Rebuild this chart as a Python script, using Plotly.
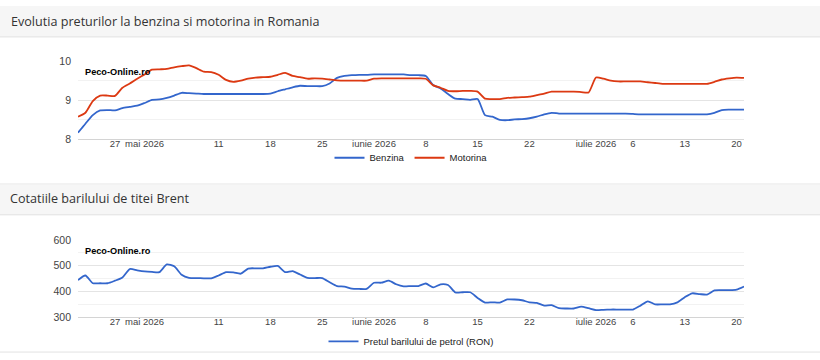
import pandas as pd
import plotly.graph_objects as go

# ---------------- data ----------------
dates = pd.date_range("2026-04-22", "2026-07-21", freq="D")

benzina = [
    8.17, 8.40, 8.62, 8.74, 8.75, 8.74, 8.80, 8.83, 8.86, 8.93,
    9.01, 9.02, 9.06, 9.12, 9.19, 9.18, 9.17, 9.16, 9.16, 9.16,
    9.16, 9.16, 9.16, 9.16, 9.16, 9.16, 9.17, 9.23, 9.28, 9.33,
    9.37, 9.36, 9.36, 9.36, 9.43, 9.57, 9.62, 9.64, 9.65, 9.65,
    9.66, 9.66, 9.66, 9.66, 9.66, 9.64, 9.64, 9.62, 9.39, 9.30,
    9.16, 9.04, 9.03, 9.01, 9.03, 8.62, 8.58, 8.50, 8.49, 8.51,
    8.52, 8.54, 8.58, 8.64, 8.68, 8.66, 8.66, 8.66, 8.66, 8.66,
    8.66, 8.66, 8.66, 8.66, 8.66, 8.65, 8.64, 8.64, 8.64, 8.64,
    8.64, 8.64, 8.64, 8.64, 8.64, 8.64, 8.68, 8.75, 8.76, 8.76,
    8.76,
]

motorina = [
    8.58, 8.68, 8.98, 9.12, 9.12, 9.11, 9.32, 9.43, 9.55, 9.66,
    9.78, 9.79, 9.80, 9.84, 9.87, 9.89, 9.82, 9.73, 9.72, 9.65,
    9.52, 9.47, 9.50, 9.55, 9.58, 9.59, 9.60, 9.65, 9.70, 9.62,
    9.59, 9.55, 9.56, 9.55, 9.53, 9.51, 9.50, 9.50, 9.50, 9.50,
    9.55, 9.56, 9.56, 9.56, 9.56, 9.56, 9.56, 9.55, 9.38, 9.32,
    9.24, 9.23, 9.24, 9.24, 9.22, 9.04, 9.03, 9.03, 9.06, 9.07,
    9.08, 9.09, 9.13, 9.17, 9.22, 9.22, 9.22, 9.22, 9.21, 9.20,
    9.58, 9.55, 9.50, 9.48, 9.48, 9.48, 9.48, 9.46, 9.44, 9.42,
    9.42, 9.42, 9.42, 9.42, 9.42, 9.42, 9.47, 9.53, 9.56, 9.58,
    9.57,
]

brent = [
    444, 462, 432, 432, 432, 442, 454, 487, 482, 478,
    476, 475, 505, 498, 465, 453, 452, 451, 451, 462,
    475, 474, 469, 489, 490, 490, 496, 499, 475, 479,
    466, 453, 452, 452, 436, 421, 419, 411, 410, 410,
    434, 434, 442, 428, 420, 421, 421, 431, 416, 428,
    425, 396, 397, 397, 375, 357, 358, 357, 369, 369,
    366, 358, 356, 345, 347, 335, 334, 334, 341, 335,
    328, 329, 330, 330, 330, 330, 345, 362, 350, 350,
    350, 358, 378, 393, 390, 388, 404, 405, 405, 407,
    419,
]

tick_dates = ["2026-04-27", "2026-05-01", "2026-05-11", "2026-05-18", "2026-05-25",
              "2026-06-01", "2026-06-08", "2026-06-15", "2026-06-22", "2026-07-01",
              "2026-07-06", "2026-07-13", "2026-07-20"]
tick_text = ["27", "mai 2026", "11", "18", "25", "iunie 2026", "8", "15", "22",
             "iulie 2026", "6", "13", "20"]

title_top = "Evolutia preturilor la benzina si motorina in Romania"
title_bottom = "Cotatiile barilului de titei Brent"
watermark = "Peco-Online.ro"

# ---------------- layout helpers ----------------
W, H = 820, 360
def px(x):
    return x / W
def py(y):
    return 1 - y / H

BLUE = "#3366cc"
RED = "#dc3912"
XTICKFONT = dict(family="Liberation Sans, Arial", size=9.5, color="#444444")
YTICKFONT = dict(family="Liberation Sans, Arial", size=10.5, color="#444444")
GRID = "#e4e4e4"
MINOR = "#f2f2f2"

fig = go.Figure()

fig.add_trace(go.Scatter(x=dates, y=benzina, name="Benzina", mode="lines",
                         line=dict(color=BLUE, width=1.8, shape="spline", smoothing=0.6),
                         xaxis="x", yaxis="y", legend="legend"))
fig.add_trace(go.Scatter(x=dates, y=motorina, name="Motorina", mode="lines",
                         line=dict(color=RED, width=1.8, shape="spline", smoothing=0.6),
                         xaxis="x", yaxis="y", legend="legend"))
fig.add_trace(go.Scatter(x=dates, y=brent, name="Pretul barilului de petrol (RON)", mode="lines",
                         line=dict(color=BLUE, width=1.8, shape="spline", smoothing=0.6),
                         xaxis="x2", yaxis="y2", legend="legend2"))

xcommon = dict(type="date", range=["2026-04-22", "2026-07-21"],
               tickmode="array", tickvals=tick_dates, ticktext=tick_text,
               showgrid=False, zeroline=False, showline=True, linecolor="#d4d4d4",
               linewidth=1, ticks="", tickfont=XTICKFONT, ticklabelstandoff=-5,
               fixedrange=True)

fig.update_layout(
    width=W, height=H,
    margin=dict(l=0, r=0, t=0, b=0),
    paper_bgcolor="white", plot_bgcolor="white",
    showlegend=True,
    xaxis=dict(domain=[px(78), px(744)], anchor="y", **xcommon),
    yaxis=dict(domain=[py(138), py(57)], anchor="x", range=[8, 10],
               tickvals=[8, 9, 10], showgrid=True, gridcolor=GRID, gridwidth=1,
               zeroline=False, showline=False, ticks="", tickfont=YTICKFONT,
               ticklabelstandoff=6,
               minor=dict(tickvals=[8.5, 9.5], showgrid=True, gridcolor=MINOR, gridwidth=1)),
    xaxis2=dict(domain=[px(78), px(744)], anchor="y2", **xcommon),
    yaxis2=dict(domain=[py(322), py(242)], anchor="x2", range=[300, 600],
                tickvals=[300, 400, 500, 600], showgrid=True, gridcolor=GRID, gridwidth=1,
                zeroline=False, showline=False, ticks="", tickfont=YTICKFONT,
                ticklabelstandoff=6,
                minor=dict(tickvals=[350, 450, 550], showgrid=True, gridcolor=MINOR, gridwidth=1)),
    legend=dict(orientation="h", x=px(411), xanchor="center", y=py(157), yanchor="middle",
                font=dict(family="Liberation Sans, Arial", size=9.5, color="#222222"),
                bgcolor="rgba(0,0,0,0)", itemwidth=30, tracegroupgap=0),
    legend2=dict(orientation="h", x=px(411), xanchor="center", y=py(347), yanchor="middle",
                 font=dict(family="Liberation Sans, Arial", size=9.5, color="#222222"),
                 bgcolor="rgba(0,0,0,0)", itemwidth=30),
)

# header bars
shapes = [
    dict(type="rect", xref="paper", yref="paper", x0=0, x1=1, y0=py(32), y1=py(0),
         fillcolor="#f6f6f6", line=dict(width=0), layer="below"),
    dict(type="line", xref="paper", yref="paper", x0=0, x1=1, y0=py(32), y1=py(32),
         line=dict(color="#e2e2e2", width=1)),
    dict(type="rect", xref="paper", yref="paper", x0=0, x1=1, y0=py(216), y1=py(184),
         fillcolor="#f6f6f6", line=dict(width=0), layer="below"),
    dict(type="line", xref="paper", yref="paper", x0=0, x1=1, y0=py(184), y1=py(184),
         line=dict(color="#ececec", width=1)),
    dict(type="line", xref="paper", yref="paper", x0=0, x1=1, y0=py(216), y1=py(216),
         line=dict(color="#e2e2e2", width=1)),
    dict(type="line", xref="paper", yref="paper", x0=0, x1=1, y0=py(358), y1=py(358),
         line=dict(color="#e2e2e2", width=1)),
]
fig.update_layout(shapes=shapes)

TITLEFONT = dict(family="Open Sans, Noto Sans", size=12.6, color="#333333")
fig.add_annotation(text=title_top, xref="paper", yref="paper", x=px(9), y=py(16),
                   xanchor="left", yanchor="middle", showarrow=False, font=TITLEFONT)
fig.add_annotation(text=title_bottom, xref="paper", yref="paper", x=px(8), y=py(199),
                   xanchor="left", yanchor="middle", showarrow=False, font=TITLEFONT)

WMFONT = dict(family="Liberation Sans, Arial", size=9.2, color="#000000")
fig.add_annotation(text="<b>" + watermark + "</b>", xref="paper", yref="paper",
                   x=px(83), y=py(68), xanchor="left", yanchor="middle",
                   showarrow=False, font=WMFONT)
fig.add_annotation(text="<b>" + watermark + "</b>", xref="paper", yref="paper",
                   x=px(83), y=py(253), xanchor="left", yanchor="middle",
                   showarrow=False, font=WMFONT)

fig.write_html("out.html")
